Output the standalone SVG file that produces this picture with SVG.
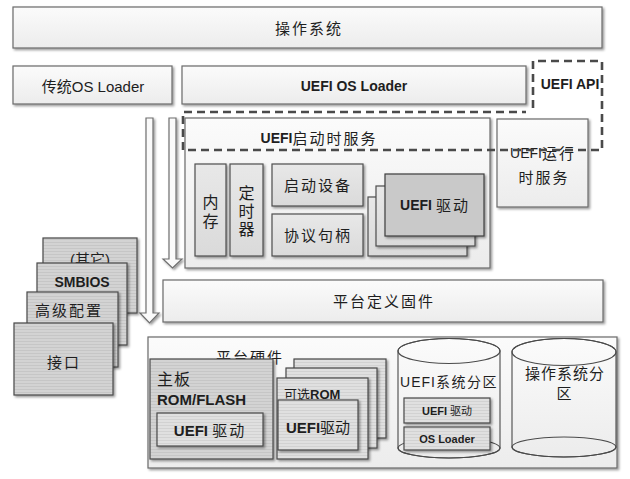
<svg xmlns="http://www.w3.org/2000/svg" width="630" height="479" viewBox="0 0 630 479">
<defs>
  <linearGradient id="gLight" x1="0" y1="0" x2="0" y2="1">
    <stop offset="0" stop-color="#fbfbfb"/>
    <stop offset="1" stop-color="#ececec"/>
  </linearGradient>
  <linearGradient id="gMid" x1="0" y1="0" x2="0" y2="1">
    <stop offset="0" stop-color="#e8e8e8"/>
    <stop offset="1" stop-color="#dadada"/>
  </linearGradient>
  <pattern id="pLines" width="4" height="3" patternUnits="userSpaceOnUse">
    <rect width="4" height="3" fill="#d3d3d3"/>
    <rect y="2" width="4" height="1" fill="#c6c6c6"/>
  </pattern>
  <pattern id="pLinesL" width="4" height="3" patternUnits="userSpaceOnUse">
    <rect width="4" height="3" fill="#e0e0e0"/>
    <rect y="2" width="4" height="1" fill="#d2d2d2"/>
  </pattern>
  <filter id="sh" x="-10%" y="-10%" width="130%" height="130%">
    <feDropShadow dx="1.6" dy="1.6" stdDeviation="0.8" flood-color="#000" flood-opacity="0.4"/>
  </filter>
</defs>
<style>
  .box{fill:url(#gLight);stroke:#6a6a6a;stroke-width:1.2;filter:url(#sh)}
  .mid{fill:url(#gMid);stroke:#4e4e4e;stroke-width:1.2;filter:url(#sh)}
  .tex{fill:url(#pLines);stroke:#4a4a4a;stroke-width:1.2;filter:url(#sh)}
  .texl{fill:url(#pLinesL);stroke:#4a4a4a;stroke-width:1.2;filter:url(#sh)}
  .dark{fill:#c9c9c9;stroke:#3e3e3e;stroke-width:1.2;filter:url(#sh)}
  .cyl{fill:url(#gLight);stroke:#4a4a4a;stroke-width:1.1}
  .arr{fill:#fafafa;stroke:#6e6e6e;stroke-width:1.2;filter:url(#sh)}
  .dash{fill:none;stroke:#4a4a4a;stroke-width:2.6;stroke-dasharray:8 5}
  text{font-family:"Liberation Sans","Noto Sans CJK SC",sans-serif;fill:#1e1e1e;font-size:15px;dominant-baseline:central}
  .c{text-anchor:middle}
  .sp{letter-spacing:2px}
  .b{font-weight:bold}
  .f14{font-size:14px}
  .f16{font-size:16px}
  .f13{font-size:13px}
  .f11{font-size:11px}
</style>

<g id="os">
  <rect class="box" x="13" y="7" width="589" height="41"/>
  <text class="c sp" x="309" y="28">操作系统</text>
</g>

<g id="legacy-os-loader">
  <rect class="box" x="13" y="66" width="159" height="38"/>
  <text class="c" x="93" y="86">传统OS Loader</text>
</g>

<g id="uefi-os-loader">
  <rect class="box" x="182" y="66" width="344" height="38"/>
  <text class="c b f14" x="354" y="86">UEFI OS Loader</text>
</g>

<g id="connectors">
  <polygon class="arr" points="146,118 153,118 153,313 159,313 149.5,323 140,313 146,313"/>
  <polygon class="arr" points="169,118 176,118 176,259 182,259 172.5,268 163,259 169,259"/>
</g>

<g id="boot-services">
  <rect class="box" x="185" y="118" width="305" height="150"/>
  <text class="c" x="319" y="138"><tspan class="b f14">UEFI</tspan><tspan class="sp">启动时服务</tspan></text>
</g>

<g id="memory">
  <rect class="mid" x="195" y="164" width="31" height="92"/>
  <text class="c f16" x="210.5" y="202">内</text>
  <text class="c f16" x="210.5" y="221">存</text>
</g>

<g id="timer">
  <rect class="mid" x="230" y="164" width="33" height="92"/>
  <text class="c f16" x="246.5" y="193">定</text>
  <text class="c f16" x="246.5" y="211">时</text>
  <text class="c f16" x="246.5" y="229">器</text>
</g>

<g id="boot-device">
  <rect class="mid" x="272" y="164" width="91" height="42"/>
  <text class="c sp" x="318" y="185">启动设备</text>
</g>

<g id="protocol-handle">
  <rect class="mid" x="272" y="214" width="91" height="42"/>
  <text class="c sp" x="318" y="235">协议句柄</text>
</g>

<g id="uefi-drivers">
  <rect class="mid" x="368" y="197" width="99" height="59"/>
  <rect class="mid" x="376" y="186" width="99" height="60"/>
  <rect class="dark" x="385" y="174" width="99" height="62"/>
  <text class="c" x="435" y="205"><tspan class="b f14">UEFI </tspan><tspan class="sp">驱动</tspan></text>
</g>

<g id="runtime-services">
  <rect class="box" x="497" y="119" width="91" height="88"/>
  <text class="c" x="543" y="153"><tspan class="f14">UEFI</tspan><tspan class="sp">运行</tspan></text>
  <text class="c sp" x="544" y="177">时服务</text>
</g>

<g id="uefi-api">
  <path class="dash" d="M533,108 V61 H602 V150 H183 V112 H526"/>
  <text class="c b f14" x="570" y="84">UEFI API</text>
</g>

<g id="platform-firmware">
  <rect class="box" x="163" y="280" width="440" height="42"/>
  <text class="c sp" x="384" y="301">平台定义固件</text>
</g>

<g id="other">
  <rect class="tex" x="43" y="238" width="94" height="75"/>
  <text class="c" x="90" y="259">(其它)</text>
</g>
<g id="smbios">
  <rect class="tex" x="37" y="263" width="90" height="82"/>
  <text class="c b f14" x="82" y="282">SMBIOS</text>
</g>
<g id="advanced-config">
  <rect class="tex" x="27" y="292" width="91" height="75"/>
  <text class="sp" x="35" y="310">高级配置</text>
</g>
<g id="interface">
  <rect class="tex" x="14" y="323" width="99" height="72"/>
  <text class="c sp" x="64" y="362">接口</text>
</g>

<g id="platform-hardware">
  <rect class="box" x="148" y="337" width="469" height="131"/>
  <text class="c sp" x="250" y="357.5">平台硬件</text>
</g>

<g id="mainboard-rom">
  <rect class="tex" x="150" y="359" width="123" height="100"/>
  <text class="f16" x="157" y="379" letter-spacing="1">主板</text>
  <text class="b" x="157" y="399">ROM/FLASH</text>
  <rect class="texl" x="157" y="413" width="106" height="33"/>
  <text class="c" x="210" y="430"><tspan class="b">UEFI </tspan><tspan class="sp">驱动</tspan></text>
</g>

<g id="option-rom">
  <rect class="texl" x="294" y="359" width="92" height="79"/>
  <rect class="texl" x="286" y="368" width="91" height="80"/>
  <rect class="texl" x="277" y="378" width="91" height="81"/>
  <text class="f13" x="284" y="394">可选<tspan class="b">ROM</tspan></text>
  <rect class="texl" x="278" y="400" width="80" height="50"/>
  <text class="c" x="318" y="427"><tspan class="b">UEFI</tspan>驱动</text>
</g>

<g id="uefi-system-partition">
  <path class="cyl" d="M398,351 A51,12.5 0 0 1 500,351 V448 A51,10 0 0 1 398,448 Z"/>
  <ellipse cx="449" cy="351" rx="51" ry="12.5" fill="none" stroke="#4a4a4a" stroke-width="1.1"/>
  <ellipse cx="449" cy="448" rx="51" ry="10" fill="none" stroke="#4a4a4a" stroke-width="1.1"/>
  <text class="c f14" x="449" y="382"><tspan letter-spacing="1">UEFI</tspan><tspan letter-spacing="1.5">系统分区</tspan></text>
  <rect class="texl" x="404" y="398" width="86" height="25"/>
  <text class="c f11" x="447" y="411"><tspan class="b">UEFI </tspan>驱动</text>
  <rect class="texl" x="404" y="427" width="86" height="23"/>
  <text class="c b f11" x="447" y="438.5">OS Loader</text>
</g>

<g id="os-partition">
  <path class="cyl" d="M512,352 A52,13.5 0 0 1 616,352 V447 A52,10 0 0 1 512,447 Z"/>
  <ellipse cx="564" cy="352" rx="52" ry="13.5" fill="none" stroke="#4a4a4a" stroke-width="1.1"/>
  <ellipse cx="564" cy="447" rx="52" ry="10" fill="none" stroke="#4a4a4a" stroke-width="1.1"/>
  <text class="c" x="565" y="373" letter-spacing="1">操作系统分</text>
  <text class="c" x="564" y="393">区</text>
</g>
</svg>
